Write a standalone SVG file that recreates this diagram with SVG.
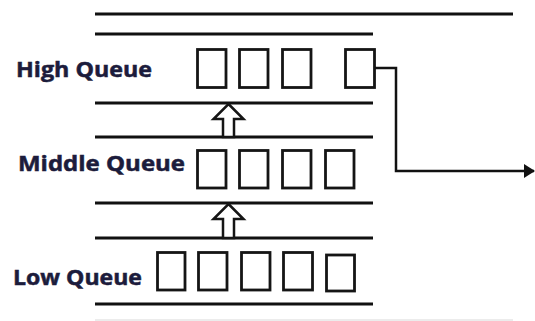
<svg xmlns="http://www.w3.org/2000/svg" width="535" height="321" viewBox="0 0 535 321">
<style>
.ln{stroke:#111;stroke-width:3;fill:none}
.bx{stroke:#151515;stroke-width:2.8;fill:#fff}
.lbl{font-family:"Open Sans","Liberation Sans",sans-serif;font-weight:bold;font-size:21px;fill:#1c1c3c;stroke:#1c1c3c;stroke-width:0.5}
.ar{stroke:#151515;stroke-width:2.5;fill:#fff;stroke-linejoin:miter}
</style>
<defs>
<marker id="ah" markerWidth="11" markerHeight="14" refX="10" refY="7" orient="auto" markerUnits="userSpaceOnUse">
<path d="M0,0 L11,7 L0,14 Z" fill="#111"/>
</marker>
</defs>
<rect width="535" height="321" fill="#fff"/>
<g id="rails">
<line class="ln" x1="95" y1="14" x2="513" y2="14"/>
<line class="ln" x1="95" y1="34" x2="373" y2="34"/>
<line class="ln" x1="95" y1="103" x2="373" y2="103"/>
<line class="ln" x1="95" y1="137" x2="373" y2="137"/>
<line class="ln" x1="95" y1="203" x2="373" y2="203"/>
<line class="ln" x1="95" y1="238" x2="373" y2="238"/>
<line class="ln" x1="95" y1="304" x2="373" y2="304"/>
<line x1="95" y1="320" x2="513" y2="320" stroke="#e6e6e6" stroke-width="1.5"/>
</g>
<g id="high-queue">
<text class="lbl" x="16" y="77" textLength="136" lengthAdjust="spacingAndGlyphs">High Queue</text>
<rect class="bx" x="197.5" y="49.5" width="28.5" height="38"/>
<rect class="bx" x="239.5" y="49.5" width="28.5" height="38"/>
<rect class="bx" x="282.5" y="49.5" width="28.5" height="38"/>
<rect class="bx" x="345.5" y="49.5" width="29" height="38"/>
</g>
<g id="middle-queue">
<text class="lbl" x="18" y="171" textLength="167" lengthAdjust="spacingAndGlyphs">Middle Queue</text>
<rect class="bx" x="197.5" y="150.5" width="28.5" height="37.5"/>
<rect class="bx" x="239.5" y="150.5" width="28.5" height="37.5"/>
<rect class="bx" x="282.5" y="150.5" width="28.5" height="37.5"/>
<rect class="bx" x="325.5" y="150.5" width="28.5" height="37.5"/>
</g>
<g id="low-queue">
<text class="lbl" x="13" y="285" textLength="129" lengthAdjust="spacingAndGlyphs">Low Queue</text>
<rect class="bx" x="157.5" y="252.5" width="27.5" height="37.5"/>
<rect class="bx" x="198.5" y="252.5" width="28.5" height="37.5"/>
<rect class="bx" x="241.5" y="252.5" width="28.5" height="37.5"/>
<rect class="bx" x="283.5" y="252.5" width="29" height="37.5"/>
<rect class="bx" x="326.5" y="255" width="28" height="36"/>
</g>
<g id="connectors">
<path class="ar" d="M228.5,104 L243.5,119 L234,119 L234,137 L223,137 L223,119 L213.5,119 Z"/>
<path class="ar" d="M228.5,204 L243.5,219 L234,219 L234,238 L223,238 L223,219 L213.5,219 Z"/>
<path d="M375,68 L396,68 L396,171 L534,171" fill="none" stroke="#111" stroke-width="2.5" marker-end="url(#ah)"/>
</g>
</svg>
